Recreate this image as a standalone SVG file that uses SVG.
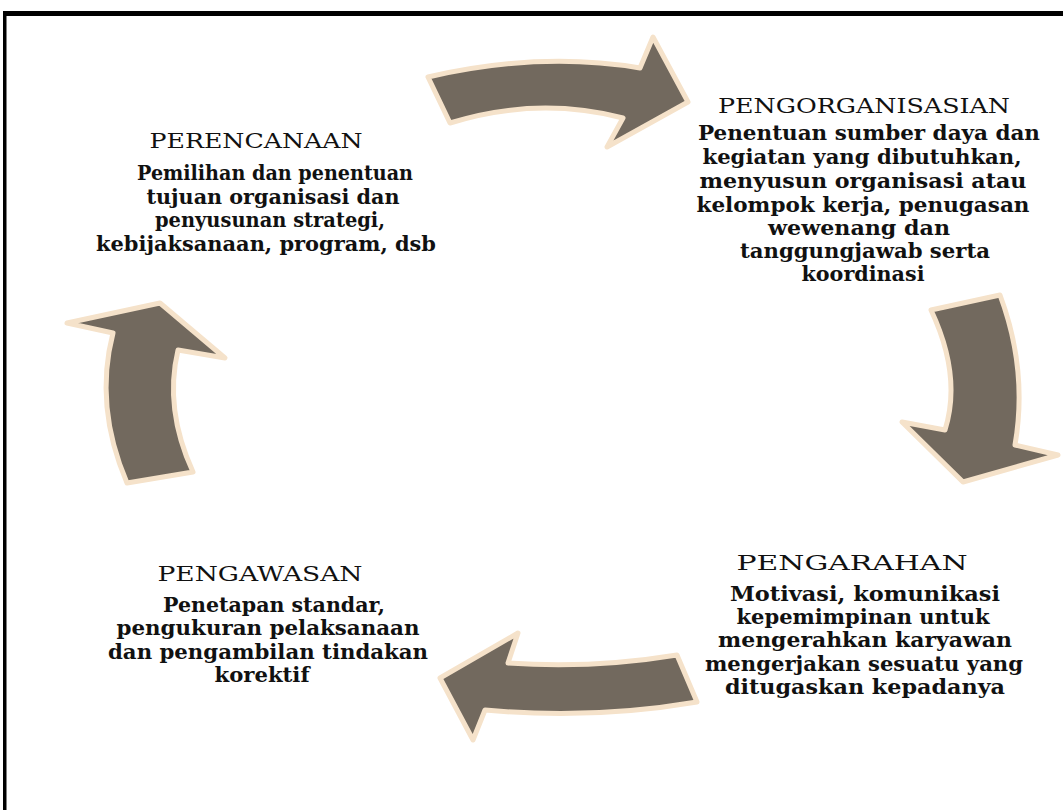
<svg xmlns="http://www.w3.org/2000/svg" width="1063" height="810" viewBox="0 0 1063 810">
<style>
.arr{fill:#72695e;stroke:#f5e2ca;stroke-width:5;stroke-linejoin:round}
.t{font-family:"DejaVu Serif","Liberation Serif",serif;font-size:20px;fill:#111;text-anchor:middle}
.b{font-family:"DejaVu Serif","Liberation Serif",serif;font-size:20.5px;font-weight:bold;fill:#111;text-anchor:middle}
</style>
<rect x="0" y="0" width="1063" height="810" fill="#fff"/>
<rect x="3" y="11" width="1060" height="5" fill="#000"/>
<rect x="3" y="11" width="3.5" height="799" fill="#000"/>
<g id="connectors">
<path class="arr" d="M428,77 Q540,51 640,68 L653,37 L688,102 L607,147 L623,118 Q537,96 450,123 Z"/>
<path class="arr" d="M931,310 Q962,376 945,430 L902,422 L963,482 L1058,455 L1015,445 Q1028,370 1000,295 Z"/>
<path class="arr" d="M677,655 Q592,669 508,663 L518,633 L440,678 L473,740 L485,710 Q591,720 697,702 Z"/>
<path class="arr" d="M67,323 L160,303 L225,358 L178,350 Q164,409 193,472 L127,483 Q94,406 113,333 Z"/>
</g>
<g id="perencanaan">
<text class="t" x="256" y="148" textLength="213" lengthAdjust="spacingAndGlyphs">PERENCANAAN</text>
<text class="b" x="275" y="180" textLength="276" lengthAdjust="spacingAndGlyphs">Pemilihan dan penentuan</text>
<text class="b" x="273" y="204" textLength="253" lengthAdjust="spacingAndGlyphs">tujuan organisasi dan</text>
<text class="b" x="270" y="227" textLength="230" lengthAdjust="spacingAndGlyphs">penyusunan strategi,</text>
<text class="b" x="266" y="251" textLength="340" lengthAdjust="spacingAndGlyphs">kebijaksanaan, program, dsb</text>
</g>
<g id="pengorganisasian">
<text class="t" x="864" y="113" textLength="292" lengthAdjust="spacingAndGlyphs">PENGORGANISASIAN</text>
<text class="b" x="869" y="140" textLength="342" lengthAdjust="spacingAndGlyphs">Penentuan sumber daya dan</text>
<text class="b" x="862" y="164" textLength="319" lengthAdjust="spacingAndGlyphs">kegiatan yang dibutuhkan,</text>
<text class="b" x="863" y="188" textLength="327" lengthAdjust="spacingAndGlyphs">menyusun organisasi atau</text>
<text class="b" x="863" y="212" textLength="333" lengthAdjust="spacingAndGlyphs">kelompok kerja, penugasan</text>
<text class="b" x="859" y="235" textLength="182" lengthAdjust="spacingAndGlyphs">wewenang dan</text>
<text class="b" x="865" y="258" textLength="250" lengthAdjust="spacingAndGlyphs">tanggungjawab serta</text>
<text class="b" x="863" y="281" textLength="123" lengthAdjust="spacingAndGlyphs">koordinasi</text>
</g>
<g id="pengarahan">
<text class="t" x="852" y="570" textLength="231" lengthAdjust="spacingAndGlyphs">PENGARAHAN</text>
<text class="b" x="865" y="601" textLength="270" lengthAdjust="spacingAndGlyphs">Motivasi, komunikasi</text>
<text class="b" x="863" y="624" textLength="253" lengthAdjust="spacingAndGlyphs">kepemimpinan untuk</text>
<text class="b" x="865" y="647" textLength="294" lengthAdjust="spacingAndGlyphs">mengerahkan karyawan</text>
<text class="b" x="864" y="671" textLength="318" lengthAdjust="spacingAndGlyphs">mengerjakan sesuatu yang</text>
<text class="b" x="865" y="694" textLength="280" lengthAdjust="spacingAndGlyphs">ditugaskan kepadanya</text>
</g>
<g id="pengawasan">
<text class="t" x="260" y="581" textLength="205" lengthAdjust="spacingAndGlyphs">PENGAWASAN</text>
<text class="b" x="274" y="612" textLength="222" lengthAdjust="spacingAndGlyphs">Penetapan standar,</text>
<text class="b" x="268" y="635" textLength="303" lengthAdjust="spacingAndGlyphs">pengukuran pelaksanaan</text>
<text class="b" x="268" y="659" textLength="320" lengthAdjust="spacingAndGlyphs">dan pengambilan tindakan</text>
<text class="b" x="262" y="682" textLength="95" lengthAdjust="spacingAndGlyphs">korektif</text>
</g>
</svg>
